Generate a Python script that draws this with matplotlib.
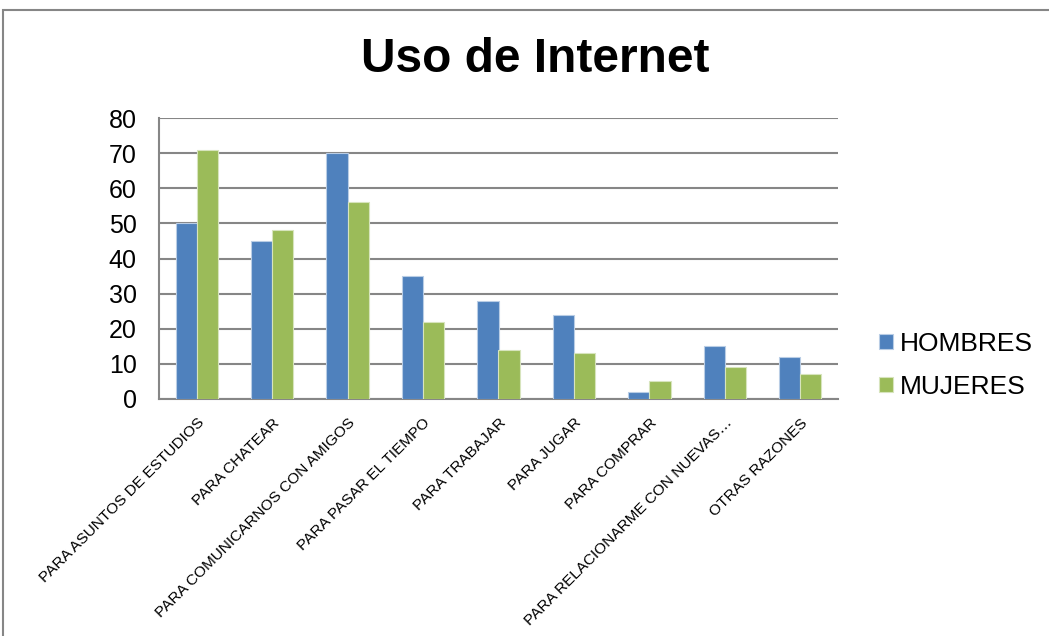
import numpy as np
import matplotlib.pyplot as plt
from matplotlib.patches import Rectangle

plt.rcParams['font.family'] = ['Liberation Sans', 'DejaVu Sans']

# Datos de la encuesta
categorias = [
    'PARA ASUNTOS DE ESTUDIOS',
    'PARA CHATEAR',
    'PARA COMUNICARNOS CON AMIGOS',
    'PARA PASAR EL TIEMPO',
    'PARA TRABAJAR',
    'PARA JUGAR',
    'PARA COMPRAR',
    'PARA RELACIONARME CON NUEVAS…',
    'OTRAS RAZONES',
]
hombres = [50, 45, 70, 35, 28, 24, 2, 15, 12]
mujeres = [71, 48, 56, 22, 14, 13, 5, 9, 7]
ticks_y = [0, 10, 20, 30, 40, 50, 60, 70, 80]

AZUL = '#4F81BD'
VERDE = '#9BBB59'
GRIS = '#868686'

fig = plt.figure(figsize=(10.49, 6.36), dpi=100)
ax = fig.add_axes([159 / 1049, 1 - 399 / 636, 679 / 1049, 281 / 636])

# marco exterior del gráfico
fig.patches.append(Rectangle((3 / 1049, -0.1), 1.2, 1 - 10 / 636 + 0.1,
                             transform=fig.transFigure, fill=False,
                             edgecolor=GRIS, linewidth=1.5))

x = np.arange(len(categorias))
ancho = 0.28
ax.bar(x - ancho / 2, hombres, ancho, color=AZUL, edgecolor='#B9CDE5',
       linewidth=0.8, label='HOMBRES', zorder=3)
ax.bar(x + ancho / 2, mujeres, ancho, color=VERDE, edgecolor='#D7E4BD',
       linewidth=0.8, label='MUJERES', zorder=3)

ax.set_xlim(-0.5, len(categorias) - 0.5)
ax.set_ylim(0, 80)
ax.set_yticks(ticks_y)
ax.tick_params(axis='y', length=0, labelsize=18, pad=16)
ax.yaxis.grid(True, color=GRIS, linewidth=1.5, zorder=0)
ax.set_axisbelow(True)

ax.set_xticks(x)
ax.set_xticklabels(categorias, rotation=45, ha='right',
                   rotation_mode='anchor', fontsize=11.1)
ax.tick_params(axis='x', length=0, pad=12)

for lado in ['top', 'right']:
    ax.spines[lado].set_visible(False)
for lado in ['left', 'bottom']:
    ax.spines[lado].set_color(GRIS)
    ax.spines[lado].set_linewidth(1.5)

fig.text(535 / 1049, 1 - 60 / 636, 'Uso de Internet', fontsize=34.5,
         fontweight='bold', ha='center', va='center')

ax.legend(loc='center left', bbox_to_anchor=(1.025, 0.12), frameon=False,
          fontsize=19, handlelength=0.53, handleheight=0.53,
          handletextpad=0.27, labelspacing=0.72)

fig.savefig('out.png', dpi=100)
